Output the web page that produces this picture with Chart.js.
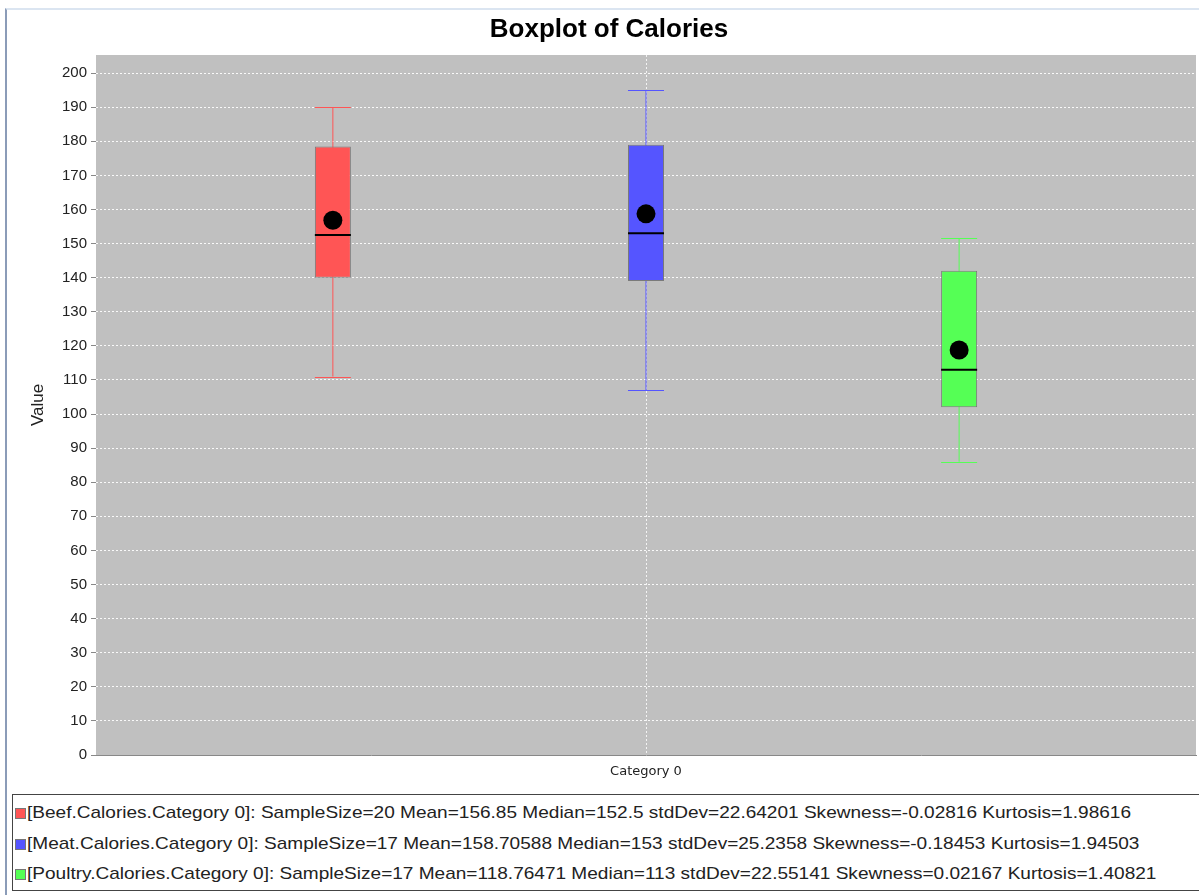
<!DOCTYPE html>
<html>
<head>
<meta charset="utf-8">
<title>Boxplot of Calories</title>
<script src="https://cdn.jsdelivr.net/npm/chart.js@4/dist/chart.umd.min.js"></script>
<style>
  body { margin: 0; background: #fff; font-family: "Liberation Sans", Arial, sans-serif; }
  #frame { position: absolute; left: 5px; top: 8px; width: 1194px; height: 887px;
           border-left: 2px solid #8b9cb8; border-top: 2px solid #dbe5f1; }
  #wrap { position: absolute; left: 0; top: 0; width: 1199px; height: 790px; }
  #legend { position: absolute; left: 12px; top: 794px; width: 1190px; height: 97px;
            border: 1px solid #444; border-right: none; box-sizing: border-box;
            padding-top: 3px; font-size: 17px; color: #222; }
  #legend div { height: 30.5px; line-height: 30.5px; white-space: nowrap; }
  #legend span.sw { display: inline-block; width: 9px; height: 9px; margin: 0 1px 0 2px;
                    border: 1px solid #777; vertical-align: -1px; }
  #legend span.txt { display: inline-block; transform: scaleX(1.12); transform-origin: 0 50%; }
</style>
</head>
<body>
<div id="frame"></div>
<div id="wrap"><canvas id="boxChart"></canvas></div>
<div id="legend"></div>
<script>
// data
const seriesNames = ['Beef', 'Meat', 'Poultry'];
const seriesColors = ['#ff5555', '#5555ff', '#55ff55'];
const whiskerLow = [111, 107, 86];
const boxQ1 = [140, 139, 102];
const medians = [152.5, 153, 113];
const boxQ3 = [178.5, 179, 142];
const whiskerHigh = [190, 195, 151.5];
const means = [156.85, 158.70588, 118.76471];
const sampleSizes = [20, 17, 17];
const stdDevs = ['22.64201', '25.2358', '22.55141'];
const skewness = ['-0.02816', '-0.18453', '0.02167'];
const kurtosis = ['1.98616', '1.94503', '1.40821'];
const categories = ['Category 0'];

// legend below the chart
const legend = document.getElementById('legend');
seriesNames.forEach((name, i) => {
    const row = document.createElement('div');
    row.innerHTML = '<span class="sw" style="background:' + seriesColors[i] + '"></span>' +
        '<span class="txt">[' + name + '.Calories.Category 0]: SampleSize=' + sampleSizes[i] +
        ' Mean=' + means[i] + ' Median=' + medians[i] + ' stdDev=' + stdDevs[i] +
        ' Skewness=' + skewness[i] + ' Kurtosis=' + kurtosis[i] + '</span>';
    legend.appendChild(row);
});

// grey plot background
const plotBackground = {
    id: 'plotBackground',
    beforeDraw(chart) {
        const { ctx, chartArea } = chart;
        ctx.save();
        ctx.fillStyle = '#c0c0c0';
        ctx.fillRect(chartArea.left, chartArea.top, chartArea.width, chartArea.height);
        ctx.restore();
    }
};

// whiskers behind the boxes, median + mean on top
const boxParts = {
    id: 'boxParts',
    beforeDatasetsDraw(chart) {
        const ctx = chart.ctx;
        const y = chart.scales.y;
        chart.data.datasets.forEach((ds, i) => {
            const bar = chart.getDatasetMeta(i).data[0];
            const half = bar.width / 2;
            ctx.save();
            ctx.strokeStyle = seriesColors[i];
            ctx.lineWidth = 1;
            ctx.beginPath();
            ctx.moveTo(bar.x, y.getPixelForValue(whiskerLow[i]));
            ctx.lineTo(bar.x, y.getPixelForValue(whiskerHigh[i]));
            [whiskerLow[i], whiskerHigh[i]].forEach(v => {
                const py = Math.round(y.getPixelForValue(v)) + 0.5;
                ctx.moveTo(bar.x - half, py);
                ctx.lineTo(bar.x + half, py);
            });
            ctx.stroke();
            ctx.restore();
        });
    },
    afterDatasetsDraw(chart) {
        const ctx = chart.ctx;
        const y = chart.scales.y;
        chart.data.datasets.forEach((ds, i) => {
            const bar = chart.getDatasetMeta(i).data[0];
            const half = bar.width / 2;
            ctx.save();
            ctx.strokeStyle = '#000';
            ctx.lineWidth = 2;
            const my = y.getPixelForValue(medians[i]);
            ctx.beginPath();
            ctx.moveTo(bar.x - half, my);
            ctx.lineTo(bar.x + half, my);
            ctx.stroke();
            ctx.fillStyle = '#000';
            ctx.beginPath();
            ctx.arc(bar.x, y.getPixelForValue(means[i]), 9.5, 0, Math.PI * 2);
            ctx.fill();
            ctx.restore();
        });
    }
};

const ctx = document.getElementById('boxChart').getContext('2d');
new Chart(ctx, {
    type: 'bar',
    data: {
        labels: categories,
        datasets: seriesNames.map((name, i) => ({
            label: name,
            data: [[boxQ1[i], boxQ3[i]]],
            backgroundColor: seriesColors[i],
            borderColor: '#7a7a7a',
            borderWidth: 1,
            borderSkipped: false,
            categoryPercentage: 0.854,
            barPercentage: 0.115
        }))
    },
    options: {
        responsive: true,
        maintainAspectRatio: false,
        animation: false,
        layout: { padding: { left: 22, right: 3, top: 10, bottom: 0 } },
        plugins: {
            legend: { display: false },
            tooltip: { enabled: false },
            title: {
                display: true,
                text: 'Boxplot of Calories',
                color: '#000',
                font: { family: 'Liberation Sans', size: 26, weight: 'bold' },
                padding: { top: 4, bottom: 9.8 }
            }
        },
        scales: {
            x: {
                grid: { offset: false, color: 'rgba(255,255,255,0.8)', drawTicks: false, lineWidth: 1 },
                border: { display: true, color: '#888', dash: [2, 2] },
                ticks: {
                    color: '#222',
                    font: { family: 'DejaVu Sans', size: 13 },
                    padding: 9
                },
                afterFit(scale) { scale.height = 35; }
            },
            y: {
                min: 0,
                max: 205.3,
                afterBuildTicks(scale) {
                    scale.ticks = scale.ticks.filter(t => t.value % 10 === 0);
                },
                ticks: {
                    stepSize: 10,
                    color: '#222',
                    font: { family: 'Liberation Sans', size: 15 },
                    padding: 4
                },
                grid: { color: 'rgba(255,255,255,0.9)', tickColor: '#888', tickLength: 5, lineWidth: 1 },
                border: { display: false, dash: [2, 2] },
                title: {
                    display: true,
                    text: 'Value',
                    color: '#222',
                    font: { family: 'Liberation Sans', size: 17 },
                    padding: { top: 6, bottom: 4 }
                },
                afterFit(scale) { scale.width = 74; }
            }
        }
    },
    plugins: [plotBackground, boxParts]
});
</script>
</body>
</html>
